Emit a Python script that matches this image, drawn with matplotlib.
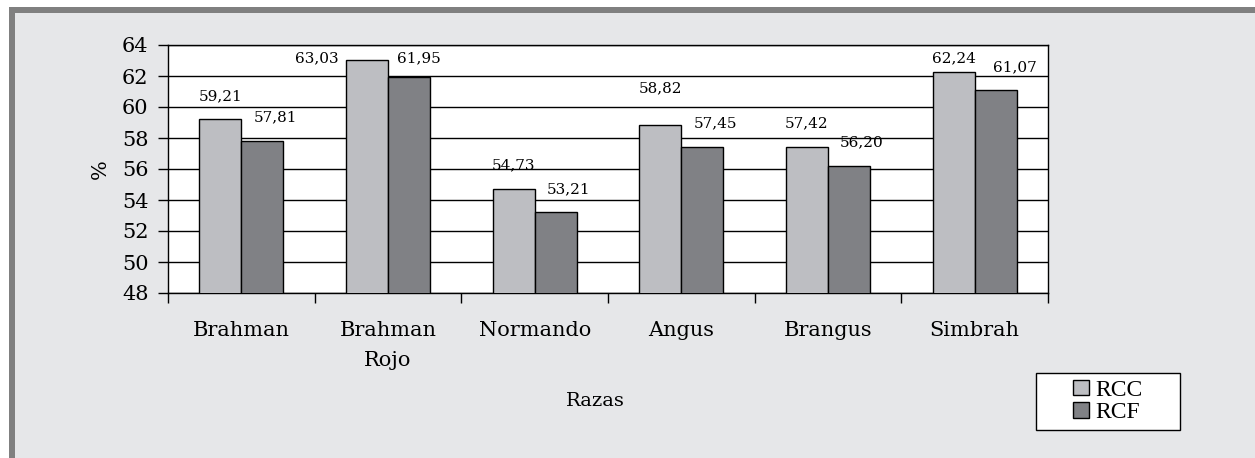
import matplotlib.pyplot as plt
import numpy as np
from matplotlib.patches import Rectangle
from matplotlib.ticker import FixedLocator, NullFormatter

razas = ["Brahman", "Brahman\nRojo", "Normando", "Angus", "Brangus", "Simbrah"]
rcc = [59.21, 63.03, 54.73, 58.82, 57.42, 62.24]
rcf = [57.81, 61.95, 53.21, 57.45, 56.20, 61.07]
rcc_txt = ["59,21", "63,03", "54,73", "58,82", "57,42", "62,24"]
rcf_txt = ["57,81", "61,95", "53,21", "57,45", "56,20", "61,07"]

C_RCC = "#bdbec2"
C_RCF = "#808185"
C_BG = "#e6e7e9"
C_FRAME = "#808080"
SERIF = "DejaVu Serif"

W, H = 1255, 458
fig = plt.figure(figsize=(W / 100, H / 100), dpi=100)
fig.patch.set_facecolor("white")

# panel background with thick frame on top and left
fig.add_artist(Rectangle((9 / W, 0), 1, (H - 7) / H, transform=fig.transFigure,
                         facecolor=C_FRAME, edgecolor="none", zorder=-2))
fig.add_artist(Rectangle((14.5 / W, 0), 1, (H - 12.5) / H, transform=fig.transFigure,
                         facecolor=C_BG, edgecolor="none", zorder=-1))

ax = fig.add_axes([168 / W, (H - 293) / H, 880 / W, 248 / H])
ax.set_facecolor("white")

x = np.arange(len(razas))
bw = 0.286
ax.bar(x - bw / 2, rcc, bw, color=C_RCC, edgecolor="black",
       linewidth=1.0, label="RCC", zorder=3)
ax.bar(x + bw / 2, rcf, bw, color=C_RCF, edgecolor="black",
       linewidth=1.0, label="RCF", zorder=3)

ax.set_ylim(48, 64)
ax.set_xlim(-0.5, len(razas) - 0.5)
ax.set_yticks(np.arange(48, 65, 2))
ax.yaxis.grid(True, color="black", linewidth=1.0, zorder=0)
ax.set_axisbelow(True)

ax.set_xticks(x)
ax.set_xticklabels(razas, fontsize=15, family=SERIF, linespacing=1.75)
ax.xaxis.set_minor_locator(FixedLocator(np.arange(-0.5, len(razas), 1.0)))
ax.xaxis.set_minor_formatter(NullFormatter())
ax.tick_params(axis="x", which="major", length=0, pad=20)
ax.tick_params(axis="x", which="minor", length=7, width=1, direction="out")
ax.tick_params(axis="y", length=7, width=1, direction="out", labelsize=15, pad=7)
for lab in ax.get_yticklabels():
    lab.set_family(SERIF)
for s in ax.spines.values():
    s.set_linewidth(1.0)

ax.set_ylabel("%", fontsize=15, family=SERIF, labelpad=9)
ax.set_xlabel("Razas", fontsize=14, family=SERIF, labelpad=16)
ax.xaxis.label.set_x(0.486)

# value labels sit above the bars; RCF labels lean right, and those that
# would leave the plot are held under the top edge and pushed sideways
nudge_rcc = {1: -50}
nudge_rcf = {1: 10, 5: 19}
for i in range(len(razas)):
    for vals, txts, off, nudge, dx in ((rcc, rcc_txt, -bw / 2, nudge_rcc, 0),
                                       (rcf, rcf_txt, bw / 2, nudge_rcf, 13)):
        y = min(vals[i] + 1.5, 63.15)
        if i == 3 and vals is rcc:
            y = 61.2
        ax.annotate(txts[i], (x[i] + off, y), xytext=(nudge.get(i, dx), 0),
                    textcoords="offset pixels",
                    ha="center", va="center", fontsize=11,
                    family=SERIF, zorder=4)

# legend: white box with the entries centred inside it
box = (1036 / W, (H - 430) / H, 144 / W, 57 / H)
fig.add_artist(Rectangle(box[:2], box[2], box[3], transform=fig.transFigure,
                         facecolor="white", edgecolor="black", linewidth=1.0, zorder=5))
leg = fig.legend(loc="center", bbox_to_anchor=(box[0] + box[2] / 2, box[1] + box[3] / 2),
                 frameon=False, prop={"family": "Liberation Serif", "size": 17},
                 handlelength=0.65, handleheight=0.65, handletextpad=0.3,
                 labelspacing=0.05, borderpad=0, borderaxespad=0)
leg.set_zorder(6)
for h in leg.legend_handles:
    h.set_linewidth(1.0)

fig.savefig("out.png", dpi=100, facecolor=fig.get_facecolor())
